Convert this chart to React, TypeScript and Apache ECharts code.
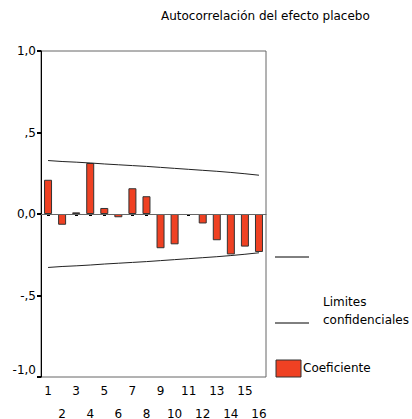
import React, { useEffect, useRef } from "react";
import * as echarts from "echarts";

const lags = ["1", "2", "3", "4", "5", "6", "7", "8", "9", "10", "11", "12", "13", "14", "15", "16"];
const coefficients = [0.21, -0.066, 0.01, 0.313, 0.037, -0.02, 0.158, 0.109, -0.21, -0.186, 0.0, -0.058, -0.161, -0.248, -0.2, -0.233];
const upperLimit = [0.328, 0.322, 0.318, 0.313, 0.307, 0.302, 0.297, 0.292, 0.286, 0.28, 0.274, 0.268, 0.262, 0.255, 0.247, 0.238];
const lowerLimit = [-0.328, -0.322, -0.318, -0.313, -0.307, -0.302, -0.297, -0.292, -0.286, -0.28, -0.274, -0.268, -0.262, -0.255, -0.247, -0.238];
const yTickLabels: Record<string, string> = { "1": "1,0", "0.5": ",5", "0": "0,0", "-0.5": "-,5", "-1": "-1,0" };

const FONT = "'DejaVu Sans', sans-serif";
const RED = "#EF4123";

export default function App() {
  const ref = useRef<HTMLDivElement>(null);
  useEffect(() => {
    if (!ref.current) return;
    const chart = echarts.init(ref.current, null, { renderer: "svg" });
    chart.setOption({
      animation: false,
      backgroundColor: "#ffffff",
      textStyle: { fontFamily: FONT },
      grid: {
        left: 41,
        top: 51,
        width: 225,
        height: 326,
        containLabel: false,
        outerBoundsMode: "none",
        show: true,
        borderColor: "#666666",
        borderWidth: 1,
        backgroundColor: "transparent",
      },
      xAxis: {
        type: "category",
        data: lags,
        axisLine: { show: true, lineStyle: { color: "#666666", width: 1 } },
        axisTick: { show: true, alignWithLabel: true, length: 2, lineStyle: { color: "#000", width: 3 } },
        axisLabel: {
          interval: 0,
          margin: 2,
          fontSize: 12,
          lineHeight: 23,
          color: "#000",
          fontFamily: FONT,
          formatter: (v: string, i: number) => (i % 2 === 0 ? v : "\n" + v),
        },
        splitLine: { show: false },
      },
      yAxis: {
        type: "value",
        min: -1,
        max: 1,
        interval: 0.5,
        axisLine: { show: true, lineStyle: { color: "#000", width: 1 } },
        axisTick: { show: true, length: 4, lineStyle: { color: "#000", width: 2 } },
        axisLabel: {
          margin: 5,
          fontSize: 12,
          color: "#000",
          fontFamily: FONT,
          formatter: (v: number) => {
            const t = yTickLabels[String(v)] ?? String(v);
            return v === -1 ? "{low|" + t + "}" : t;
          },
          rich: {
            low: { fontSize: 12, fontFamily: FONT, color: "#000", padding: [0, 0, 14, 0] },
          },
        },
        splitLine: { show: false },
      },
      series: [
        {
          type: "bar",
          data: coefficients.map((v) => (v === 0 ? "-" : v)),
          barWidth: 8,
          itemStyle: { color: RED, borderColor: "#333333", borderWidth: 1 },
          markLine: {
            silent: true,
            symbol: "none",
            label: { show: false },
            lineStyle: { color: "#666666", width: 1, type: "solid" },
            data: [{ yAxis: 0 }],
          },
        },
        {
          type: "line",
          data: upperLimit,
          showSymbol: false,
          symbol: "none",
          lineStyle: { color: "#222222", width: 1 },
        },
        {
          type: "line",
          data: lowerLimit,
          showSymbol: false,
          symbol: "none",
          lineStyle: { color: "#222222", width: 1 },
        },
      ],
      graphic: [
        {
          type: "text",
          left: 161,
          top: 10,
          style: { text: "Autocorrelación del efecto placebo", fontSize: 12, fill: "#000", fontFamily: FONT },
        },
        { type: "line", shape: { x1: 275, y1: 257, x2: 309, y2: 257 }, style: { stroke: "#000", lineWidth: 1 } },
        { type: "line", shape: { x1: 275, y1: 323, x2: 309, y2: 323 }, style: { stroke: "#000", lineWidth: 1 } },
        {
          type: "text",
          left: 323,
          top: 293,
          style: { text: "Limites\nconfidenciales", fontSize: 12, lineHeight: 18, fill: "#000", fontFamily: FONT },
        },
        {
          type: "rect",
          shape: { x: 276, y: 360, width: 25, height: 17 },
          style: { fill: RED, stroke: "#333333", lineWidth: 1 },
        },
        {
          type: "text",
          left: 303,
          top: 362,
          style: { text: "Coeficiente", fontSize: 12, fill: "#000", fontFamily: FONT },
        },
      ],
    });
    return () => chart.dispose();
  }, []);
  return <div ref={ref} style={{ position: "fixed", left: 0, top: 0, width: 412, height: 419 }} />;
}
